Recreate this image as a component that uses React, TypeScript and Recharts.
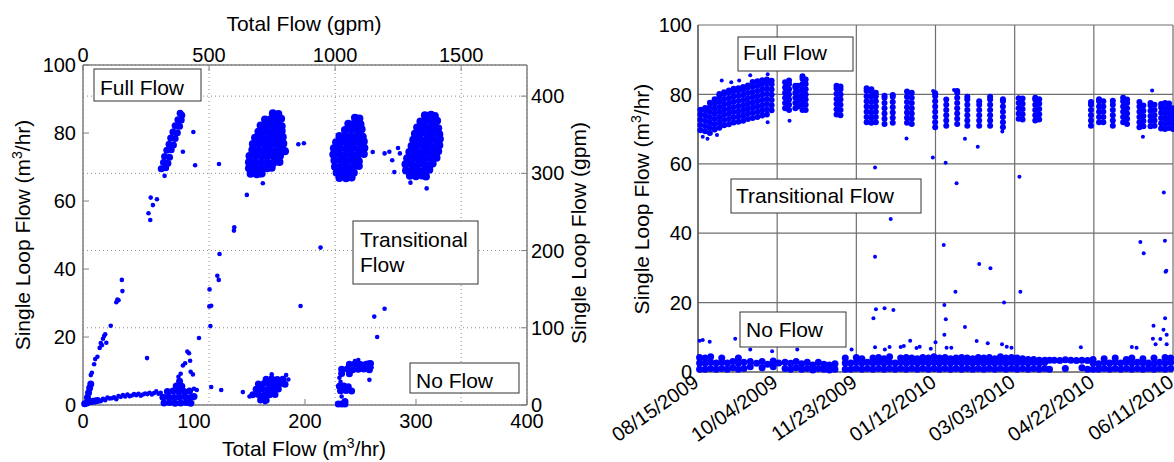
import React from 'react';
import { ScatterChart, Scatter, XAxis, YAxis, CartesianGrid } from 'recharts';

type P = [number, number];

const FONT = '"Liberation Sans", Arial, Helvetica, sans-serif';
const BLUE = '#0000ff';

// ---------------- LEFT PANEL (Total flow vs single loop flow, m3/hr) ----------------
const leftXTicks = [0, 100, 200, 300, 400];
const leftYTicks = [0, 20, 40, 60, 80, 100];
const gpmTopTicks = [0, 500, 1000, 1500];
const gpmRightTicks = [0, 100, 200, 300, 400];
const GPM_PER_M3H = 4.403;

const leftClusterA: P[] = [
  [70.5, 69.5], [74.5, 69.8], [72.5, 71.3], [76.5, 71.1], [73.5, 73.1], [78, 72.9], [75.5, 74.9], [79.5, 75.1],
  [77.5, 76.7], [81.5, 76.5], [79, 78.5], [83, 78.4], [81, 80.3], [85, 80.1], [83, 82.1], [87, 82],
  [85.5, 83.9], [88.5, 83.8], [87.5, 85.8], [89, 85.2],
];

const leftClusterB: P[] = [
  [171, 85.8], [176, 85.6],
  [164, 84], [169.5, 84.1], [175, 83.9], [178.5, 84.2],
  [160, 82.2], [165.5, 82.3], [171, 82.1], [176.5, 82.2], [179, 82],
  [158, 80.4], [163.5, 80.5], [169, 80.3], [174.5, 80.4], [179, 80.6],
  [155, 78.6], [160.5, 78.7], [166, 78.5], [171.5, 78.6], [177, 78.4], [180, 78.8],
  [153, 76.8], [158.5, 76.9], [164, 76.7], [169.5, 76.8], [175, 76.6], [180.5, 76.9],
  [152.5, 75], [158, 75.1], [163.5, 74.9], [169, 75], [174.5, 74.8], [180, 75.2], [182, 74.6],
  [150, 73.2], [155.5, 73.3], [161, 73.1], [166.5, 73.2], [172, 73], [177.5, 73.3],
  [149.5, 71.4], [155, 71.5], [160.5, 71.3], [166, 71.4], [171.5, 71.2], [177, 71.5],
  [149.5, 69.6], [155, 69.7], [160.5, 69.5], [166, 69.6], [170, 69.8],
  [151, 68], [156.5, 67.9], [161, 68.1],
];

const leftClusterC: P[] = [
  [245, 84.5], [249, 84.3],
  [239, 82.7], [244.5, 82.8], [250, 82.6],
  [236, 80.9], [241.5, 81], [247, 80.8], [251, 81.1],
  [231, 79.1], [236.5, 79.2], [242, 79], [247.5, 79.1], [252, 78.9],
  [228, 77.3], [233.5, 77.4], [239, 77.2], [244.5, 77.3], [250, 77.1], [253, 77.5],
  [226, 75.5], [231.5, 75.6], [237, 75.4], [242.5, 75.5], [248, 75.3], [253.5, 75.6],
  [225.5, 73.7], [231, 73.8], [236.5, 73.6], [242, 73.7], [247.5, 73.5], [253, 73.8],
  [226.5, 71.9], [232, 72], [237.5, 71.8], [243, 71.9], [248.5, 71.7],
  [227, 70.1], [232.5, 70.2], [238, 70], [243.5, 70.1], [248.5, 70.3],
  [228.5, 68.3], [234, 68.4], [239.5, 68.2], [244, 68.3],
  [231, 66.8], [237, 66.7], [242, 66.9],
];

const leftClusterD: P[] = [
  [308, 85.2], [313.5, 85.4], [317, 85],
  [304, 83.4], [309.5, 83.5], [315, 83.3], [319, 83.6],
  [301, 81.6], [306.5, 81.7], [312, 81.5], [317.5, 81.6], [320, 81.4],
  [299, 79.8], [304.5, 79.9], [310, 79.7], [315.5, 79.8], [321, 79.6],
  [297.5, 78], [303, 78.1], [308.5, 77.9], [314, 78], [319.5, 77.8], [321.5, 78.2],
  [296, 76.2], [301.5, 76.3], [307, 76.1], [312.5, 76.2], [318, 76], [321, 76.4],
  [294, 74.4], [299.5, 74.5], [305, 74.3], [310.5, 74.4], [316, 74.2], [320, 74.6],
  [292, 72.6], [297.5, 72.7], [303, 72.5], [308.5, 72.6], [314, 72.4], [318.5, 72.7],
  [290.5, 70.8], [296, 70.9], [301.5, 70.7], [307, 70.8], [312.5, 70.6], [315, 71],
  [291, 69], [296.5, 69.1], [302, 68.9], [307.5, 69], [312, 69.2],
  [294.5, 67.4], [300, 67.3], [305.5, 67.5], [309, 67.2],
];

const leftLowDense: P[] = [
  [1.5, 0.4], [3.5, 0.6], [5, 1], [4, 2.2], [5, 3.6], [6, 5], [7, 6.2], [7, 1], [9, 1.1], [11, 1.2], [13, 1.3],
  [73, 0.6], [78, 0.7], [83, 0.5], [88, 0.6], [93, 0.7], [97, 0.5],
  [72, 2.3], [77, 2.4], [82, 2.2], [87, 2.3], [92, 2.4], [97, 2.2], [100, 2.5],
  [76, 4], [81, 4.1], [86, 3.9], [91, 4], [96, 4.1],
  [84, 5.6], [89, 5.5], [87, 7],
  [165, 7.6], [170, 7.7], [175, 7.5], [180, 7.6],
  [158, 6.2], [163, 6.3], [168, 6.1], [173, 6.2], [178, 6.3], [182, 6.1],
  [156, 4.6], [161, 4.7], [166, 4.5], [171, 4.6], [176, 4.7],
  [153, 3], [158, 3.1], [163, 2.9], [168, 3], [173, 3.1],
  [160, 1.5], [165, 1.4],
  [240, 12], [245, 12.1], [250, 11.9], [255, 12], [259, 12.2],
  [233, 10.5], [238, 10.6], [243, 10.4], [248, 10.5], [253, 10.6], [258, 10.4],
  [233, 9.3], [240, 9.2],
  [231, 5.5], [235, 5.6], [239, 5.4],
  [232, 4.2], [237, 4.3], [242, 4.1],
  [230, 0.3], [233, 0.3], [236, 0.3], [236, 1],
];

const leftSparse: P[] = [
  [6, 5.5], [7, 8.8], [8, 9.5], [10, 12], [11, 13.5], [13, 14.2], [15, 16.8], [16, 18.2], [17, 17.6], [18, 19.5],
  [19, 20.3], [20, 20.8], [21, 18.3], [25, 23.3], [30, 30.2], [31, 31], [32, 30.8], [35, 36.8], [35.5, 33.5],
  [14, 1.5], [16, 1.1], [18, 1.8], [20, 1.4], [22, 2.2], [24, 1.9], [26, 2], [28, 2.3], [30, 1.7], [32, 2.6],
  [34, 2.4], [36, 2.9], [38, 2.5], [40, 3.1], [42, 2.6], [44, 2.8], [46, 3.2], [48, 2.9], [50, 3.3], [52, 2.7],
  [54, 3.1], [56, 3.4], [58, 3.2], [60, 3.6], [62, 3.1], [64, 3.5], [66, 4], [68, 3.3], [70, 3.6], [57.7, 13.8],
  [86, 8.3], [88, 9.2], [90, 11.6], [92, 12.3], [94, 15.7], [95.5, 15.2], [96.5, 13], [97, 9.8], [99, 9],
  [104.5, 19.7], [102.5, 4.4], [100, 4.8],
  [114, 34], [113.8, 29], [115.5, 29.2], [114.8, 23.2], [121, 38], [122.3, 36.8], [123, 44.4], [136, 51.3],
  [136.3, 52.3], [214, 46.3], [196, 29.1], [115.5, 5.3], [124.5, 4.4], [144, 3.8],
  [59, 56.4], [60.6, 54.4], [61, 61], [63, 58.8], [66.6, 60.5], [73.5, 67.4], [90, 74.5], [99.4, 80.3],
  [101, 70.5], [122.5, 70.9], [147.6, 61.8], [162, 65.2], [159.6, 67.6], [194, 76.7], [199, 77],
  [261, 74.4], [271.7, 74], [276, 74.5], [278.6, 72], [280.5, 68.5], [283.8, 75.6], [285.5, 74],
  [309.6, 63.7], [295, 65.4],
  [258, 7.4], [262.4, 26], [265, 20], [271.7, 28.3], [236, 1.2], [257, 12.5], [260, 11],
  [150, 2.5], [185, 7.5], [183, 8.8], [170, 9], [164, 0.8], [231, 8], [232, 6.8], [233, 2.5], [245, 12.9], [248, 13.2],
];

// ---------------- RIGHT PANEL (time series, days since 08/15/2009) ----------------
const dateTickDays = [0, 50, 100, 150, 200, 250, 300];
const dateTickLabels = ['08/15/2009', '10/04/2009', '11/23/2009', '01/12/2010', '03/03/2010', '04/22/2010', '06/11/2010'];
const rightYTicks = [0, 20, 40, 60, 80, 100];

// each row: [day, y1, y2, ...]
const rightFullCols: number[][] = [
  [1.5, 69.7, 71.2, 72.7, 74.2, 75.6],
  [4.5, 69.4, 70.9, 72.4, 73.9, 75.4, 76.1],
  [7.5, 68.9, 70.4, 71.9, 73.4, 74.9, 76.4, 77.6],
  [10.5, 69.9, 71.4, 72.9, 74.4, 75.9, 77.4, 78.6],
  [13.5, 70.4, 71.9, 73.4, 74.9, 76.4, 77.9, 79.4, 80.1],
  [16.5, 71.1, 72.6, 74.1, 75.6, 77.1, 78.6, 80.1, 80.6],
  [19.5, 71.4, 72.9, 74.4, 75.9, 77.4, 78.9, 80.4, 81.1],
  [22.5, 71.9, 73.4, 74.9, 76.4, 77.9, 79.4, 80.9, 81.6],
  [25.5, 72.1, 73.6, 75.1, 76.6, 78.1, 79.6, 81.1, 81.8],
  [28.5, 72.4, 73.9, 75.4, 76.9, 78.4, 79.9, 81.4, 82.1],
  [31.5, 72.9, 74.4, 75.9, 77.4, 78.9, 80.4, 81.9, 82.6],
  [34.5, 73.2, 74.7, 76.2, 77.7, 79.2, 80.7, 82.2, 83.6],
  [37.5, 73.5, 75, 76.5, 78, 79.5, 81, 82.5, 83.8],
  [40.5, 73.9, 75.4, 76.9, 78.4, 79.9, 81.4, 82.9, 84.1],
  [43.5, 74.2, 75.7, 77.2, 78.7, 80.2, 81.7, 83.2, 84.3],
  [46.5, 75.4, 76.9, 78.4, 79.9, 81.4, 82.9, 83.9],
  [55, 76, 77.5, 79, 80.5, 82, 83.5],
  [57.5, 75.5, 77, 78.5, 80, 81.5, 83, 84],
  [61.5, 76, 77.5, 79, 80.5, 82, 82.5],
  [63.2, 76.5, 78, 79.5, 81, 82.5],
  [66, 75.5, 77, 78.5, 80, 81.5, 83, 84.5, 85.2],
  [68, 75.5, 77, 78.5, 80, 81.5, 83, 84.3],
  [87.5, 74.2, 75.7, 77.2, 78.7, 80.2, 81.7, 82.5],
  [90, 74, 75.5, 77, 78.5, 80, 81.5, 82.3],
  [106.5, 72, 73.5, 75, 76.5, 78, 79.5, 81, 81.8],
  [109.5, 71.8, 73.3, 74.8, 76.3, 77.8, 79.3, 80.8, 81.5],
  [112.3, 72, 73.5, 75, 76.5, 78, 79.5, 80.5],
  [117.8, 71.5, 73, 74.5, 76, 77.5, 79, 79.6],
  [123, 71.8, 73.3, 74.8, 76.3, 77.8, 79.3, 79.8],
  [132, 71.8, 73.3, 74.8, 76.3, 77.8, 79.3, 80.8],
  [135, 71.5, 73, 74.5, 76, 77.5, 79, 80.5],
  [149.8, 70.5, 72, 73.5, 75, 76.5, 78, 79.5, 80.3],
  [156.8, 71, 72.5, 74, 75.5, 77, 78.5],
  [163.7, 71.5, 73, 74.5, 76, 77.5, 79, 80.5, 81],
  [170.1, 71, 72.5, 74, 75.5, 77, 78.5, 79.3],
  [177.6, 71, 72.5, 74, 75.5, 77, 78],
  [184.5, 71, 72.5, 74, 75.5, 77, 78.5, 79.3],
  [192.6, 70.5, 72, 73.5, 75, 76.5, 78, 78.6],
  [202.5, 73, 74.5, 76, 77.5, 78.9],
  [205, 72.8, 74.3, 75.8, 77.3, 78.8],
  [213, 72.5, 74, 75.5, 77, 78.5, 79],
  [215.5, 72.8, 74.3, 75.8, 77.3, 78.6],
  [248.2, 71, 72.5, 74, 75.5, 77, 77.8],
  [253.3, 72, 73.5, 75, 76.5, 78, 78.6],
  [256, 72, 73.5, 75, 76.5, 78],
  [262, 71, 72.5, 74, 75.5, 77, 78.2],
  [268.5, 72, 73.5, 75, 76.5, 78, 79],
  [271, 71.5, 73, 74.5, 76, 77.5, 78.5],
  [278.8, 70.5, 72, 73.5, 75, 76.5, 77.8],
  [281.3, 70.8, 72.3, 73.8, 75.3, 76.8],
  [285.8, 70.8, 72.3, 73.8, 75.3, 76.8, 77.5],
  [288.3, 71, 72.5, 74, 75.5, 77],
  [292.5, 70.2, 71.7, 73.2, 74.7, 76.2, 77.2],
  [295, 70, 71.5, 73, 74.5, 76, 77.5],
  [297.5, 70.3, 71.8, 73.3, 74.8, 76.3, 77.4],
  [300, 70, 71.5, 73, 74.5, 76],
];

const rightLowCols: number[][] = [
  [1, 0.8, 2.6, 4.2], [4.5, 0.8, 2.6, 4], [8, 1, 2.8, 4.4], [11.5, 0.8, 2.6], [15, 1, 2.8, 4], [18.5, 0.8, 2.6],
  [22, 1.2, 3], [25.5, 0.8, 2.6, 4], [29, 1, 2.8],
  [33, 1.5, 3], [37, 2.5], [40.5, 1.2, 3], [44, 2.2], [47.5, 1.5, 3.2], [51, 2.6],
  [55, 1, 2.8], [58.5, 0.8, 2.5], [62, 1.2, 3], [65.5, 0.8, 2.4], [69, 1, 2.8], [72.5, 0.6, 2], [76, 1, 2.8],
  [79.5, 0.8, 2.2], [83, 0.6, 2], [86.5, 0.8, 2.4],
  [93, 0.8, 2.6, 4], [96.5, 0.8, 2.6], [100, 1, 2.8, 4.2], [103.5, 0.8, 2.6, 3.8], [107, 1, 2.8], [110.5, 0.8, 2.6, 4],
  [114, 1, 2.8, 4.2], [117.5, 0.8, 2.6, 3.8], [121, 1, 2.8, 4.4], [124.5, 0.8, 2.6], [128, 1, 2.8, 4],
  [131.5, 0.8, 2.6, 4.2], [135, 1, 2.8, 4], [138.5, 0.8, 2.6, 3.8], [142, 1, 2.8, 4.2], [145.5, 0.8, 2.6, 4],
  [149, 1, 2.8, 4.4], [152.5, 0.8, 2.6, 4], [156, 1, 2.8, 4.2], [159.5, 0.8, 2.6, 3.8], [163, 1, 2.8, 4],
  [166.5, 0.8, 2.6, 4.2], [170, 1, 2.8, 4], [173.5, 0.8, 2.6, 3.8], [177, 1, 2.8, 4.2], [180.5, 0.8, 2.6, 4],
  [184, 1, 2.8, 4.2], [187.5, 0.8, 2.6, 3.8], [191, 1, 2.8, 4.4], [194.5, 0.8, 2.6, 4], [198, 1, 2.8, 4.2],
  [201.5, 0.8, 2.6, 4], [205, 1, 2.8, 3.8], [208.5, 0.8, 2.6, 3.6], [212, 1, 2.8, 3.6], [215.5, 0.8, 2.6, 3.4],
  [219, 1, 2.8, 3.4], [222, 0.8, 3.4],
  [225, 3.4], [228.5, 3.3], [232, 3.5, 1], [235.5, 3.4], [239, 3.3], [242.5, 3.4, 1.2], [246, 3.3, 0.8],
  [249.5, 0.8, 2.6, 3.6], [253, 0.8, 2.4], [256.5, 1, 2.8, 3.8], [260, 0.8, 2.6], [263.5, 1, 2.8, 4],
  [267, 0.8, 2.6], [270.5, 1, 2.8, 3.6], [274, 0.8, 2.6, 4], [277.5, 1, 2.8], [281, 0.8, 2.6, 3.8],
  [284.5, 1, 2.6], [288, 0.8, 2.4, 4], [291.5, 1, 2.8], [295, 0.8, 2.6, 4.2], [298.5, 1, 2.8, 4],
];

const rightSparse: P[] = [
  [3, 67.8], [6, 67.2], [12, 68.3], [15, 84], [21, 83.5], [26, 84], [33, 85.5], [44, 85.8], [44, 72],
  [57.8, 72.4], [111.8, 58.9], [121.7, 44.1], [131.7, 67.3], [148.3, 61.8], [156.4, 60.3], [163.3, 54.4],
  [168.6, 67.2], [176.7, 64.9], [192.2, 69.3], [203, 56.3], [281, 67.8], [286.8, 81.1], [294.2, 51.7],
  [161.7, 81.3], [148.5, 81],
  [111.8, 33.2], [112.4, 18.1], [110.8, 15.5], [117.8, 18.4], [123.4, 17.9], [111.8, 7.1], [155.2, 36.6],
  [155.6, 19.3], [156.5, 15.2], [155.6, 10.7], [162.6, 23.1], [168.6, 13], [177.6, 31.1], [184.7, 29.9],
  [193.3, 20], [203.6, 23.1], [176, 8.9], [183, 8.3], [192, 8], [241.8, 7.1], [279.4, 37.5], [281.5, 34.2],
  [294.9, 37.8], [295.3, 28.9], [295.8, 29.2], [295, 15.5], [287.7, 13.3], [287.3, 9.6], [294, 12.2], [296, 10.7],
  [1, 9], [3, 9.2], [7.4, 8.7], [23.5, 9.6], [33, 6.5], [46.8, 6], [62.7, 6.5], [97, 6.5], [118, 6.5], [121, 7.2],
  [128, 7.2], [130, 7.5], [134, 9], [138, 6.9], [140, 7.3], [147, 6.7], [150, 8.6], [157, 7], [160, 7], [195, 7.3],
  [198, 7], [274, 7.2], [277, 7], [289, 8], [292, 9.5], [296, 8],
];

// ---------------- helpers ----------------
const toPts = (arr: P[]) => arr.map(([x, y]) => ({ x, y }));
const toGpmPts = (arr: P[]) => arr.map(([x, y]) => ({ x: x * GPM_PER_M3H, y: y * GPM_PER_M3H }));
const colsToPts = (cols: number[][]) => cols.flatMap(([d, ...ys]) => ys.map((y) => ({ x: d, y })));
const dot = (r: number) => (props: any) =>
  props.cx == null ? <g /> : <circle cx={props.cx} cy={props.cy} r={r} fill={BLUE} />;

const leftDenseBig = toPts([...leftClusterB, ...leftClusterC, ...leftClusterD]);
const leftDenseMid = toPts([...leftClusterA, ...leftLowDense]);
// sparse series drawn on the gpm axes (same positions, converted units) so the gpm axes get data
const leftSparseGpm = toGpmPts(leftSparse);
const rightFullPts = colsToPts(rightFullCols);
const rightLowPts = colsToPts(rightLowCols);
const rightSparsePts = toPts(rightSparse);

const tickStyle = { fill: '#000', fontSize: 20, fontFamily: FONT };
const grayAxis = { stroke: '#808080', strokeWidth: 1.5 };
const grayTick = { stroke: '#808080' };

const DateTick = (props: any) => {
  const { x, y, payload } = props;
  const i = dateTickDays.indexOf(payload.value);
  const label = i >= 0 ? dateTickLabels[i] : '';
  return (
    <g transform={`translate(${x + 2},${y + 13})`}>
      <text x={0} y={0} textAnchor="end" transform="rotate(-35)" fill="#000" fontSize={20} fontFamily={FONT}>
        {label}
      </text>
    </g>
  );
};

const Box = ({ x, y, w, h, lines, tx, ty }: { x: number; y: number; w: number; h: number; lines: string[]; tx: number; ty: number[] }) => (
  <g>
    <rect x={x} y={y} width={w} height={h} fill="#fff" stroke="#333" strokeWidth={1} />
    {lines.map((l, i) => (
      <text key={i} x={tx} y={ty[i]} fontSize={21} fontFamily={FONT} fill="#000">
        {l}
      </text>
    ))}
  </g>
);

const M3 = () => (
  <>
    (m<tspan dy={-8} fontSize={14}>3</tspan>
    <tspan dy={8}>/hr)</tspan>
  </>
);

export default function App() {
  return (
    <div style={{ position: 'absolute', left: 0, top: 0, width: 1174, height: 462, background: '#fff', fontFamily: FONT }}>
      <div style={{ position: 'absolute', left: 0, top: 0 }}>
        <ScatterChart width={600} height={462} margin={{ top: 0, right: 0, bottom: 0, left: 0 }}>
          <CartesianGrid xAxisId="t" yAxisId="r" stroke="#8a8a8a" strokeDasharray="1 3" />
          <XAxis xAxisId="b" type="number" dataKey="x" orientation="bottom" domain={[0, 400]} ticks={leftXTicks}
            interval={0} height={57} tick={tickStyle} tickSize={-6} tickMargin={15} axisLine={grayAxis} tickLine={grayTick} />
          <XAxis xAxisId="t" type="number" dataKey="x" orientation="top" domain={[0, 400 * GPM_PER_M3H]} ticks={gpmTopTicks}
            interval={0} height={65} tick={tickStyle} tickSize={-6} tickMargin={9} axisLine={grayAxis} tickLine={grayTick} />
          <YAxis yAxisId="l" type="number" dataKey="y" orientation="left" domain={[0, 100]} ticks={leftYTicks}
            interval={0} width={83} tick={tickStyle} tickSize={-6} tickMargin={13} axisLine={grayAxis} tickLine={grayTick} />
          <YAxis yAxisId="r" type="number" dataKey="y" orientation="right" domain={[0, 100 * GPM_PER_M3H]} ticks={gpmRightTicks}
            interval={0} width={73} tick={tickStyle} tickSize={-6} tickMargin={10} axisLine={grayAxis} tickLine={grayTick} />
          <Scatter xAxisId="b" yAxisId="l" data={leftDenseBig} shape={dot(4)} isAnimationActive={false} />
          <Scatter xAxisId="b" yAxisId="l" data={leftDenseMid} shape={dot(3.5)} isAnimationActive={false} />
          <Scatter xAxisId="t" yAxisId="r" data={leftSparseGpm} shape={dot(2.3)} isAnimationActive={false} />
        </ScatterChart>
      </div>
      <div style={{ position: 'absolute', left: 600, top: 0 }}>
        <ScatterChart width={574} height={462} margin={{ top: 25, right: 1, bottom: 0, left: 0 }}>
          <CartesianGrid stroke="#6e6e6e" strokeWidth={1.2} />
          <XAxis type="number" dataKey="x" domain={[0, 300]} ticks={dateTickDays} interval={0} height={90}
            tick={DateTick} tickLine={false} tickSize={0} tickMargin={0} axisLine={{ stroke: '#555', strokeWidth: 1.2 }} />
          <YAxis type="number" dataKey="y" domain={[0, 100]} ticks={rightYTicks} interval={0} width={98}
            tick={tickStyle} tickLine={false} tickSize={0} tickMargin={6} axisLine={{ stroke: '#555', strokeWidth: 1.2 }} />
          <Scatter data={rightFullPts} shape={dot(3)} isAnimationActive={false} />
          <Scatter data={rightLowPts} shape={dot(3.5)} isAnimationActive={false} />
          <Scatter data={rightSparsePts} shape={dot(2)} isAnimationActive={false} />
        </ScatterChart>
      </div>
      <svg width={1174} height={462} style={{ position: 'absolute', left: 0, top: 0, pointerEvents: 'none' }}>
        <text x={304} y={31} textAnchor="middle" fontSize={21} fontFamily={FONT}>Total Flow (gpm)</text>
        <text x={304} y={456} textAnchor="middle" fontSize={21} fontFamily={FONT}>Total Flow <M3 /></text>
        <text x={30} y={235} textAnchor="middle" fontSize={21} fontFamily={FONT} transform="rotate(-90 30 235)">
          Single Loop Flow <M3 />
        </text>
        <text x={586} y={233} textAnchor="middle" fontSize={21} fontFamily={FONT} transform="rotate(-90 586 233)">
          Single Loop Flow (gpm)
        </text>
        <text x={649} y={199} textAnchor="middle" fontSize={21} fontFamily={FONT} transform="rotate(-90 649 199)">
          Single Loop Flow <M3 />
        </text>
        <Box x={94} y={69} w={107} h={32} lines={['Full Flow']} tx={100} ty={[95]} />
        <Box x={353} y={221} w={125} h={63} lines={['Transitional', 'Flow']} tx={360} ty={[247, 272]} />
        <Box x={410} y={363} w={109} h={30} lines={['No Flow']} tx={416} ty={[388]} />
        <Box x={738} y={37} w={115} h={34} lines={['Full Flow']} tx={743} ty={[60]} />
        <Box x={731} y={179} w={190} h={34} lines={['Transitional Flow']} tx={736} ty={[203]} />
        <Box x={740} y={312} w={106} h={35} lines={['No Flow']} tx={746} ty={[337]} />
      </svg>
    </div>
  );
}
